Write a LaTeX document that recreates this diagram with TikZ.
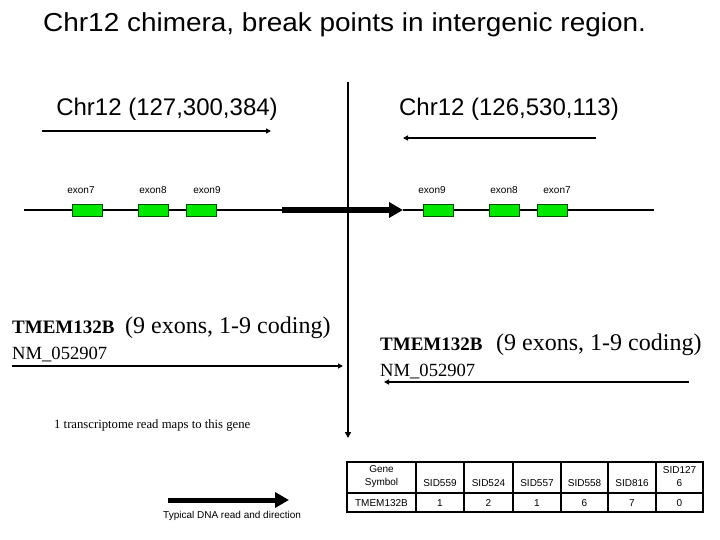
\documentclass[tikz,border=0pt]{standalone}
\usepackage{fontspec}
\setmainfont{Liberation Serif}
\newfontfamily\arial{Liberation Sans}
\newfontfamily\arialwide[FakeStretch=1.075]{Liberation Sans}
\usetikzlibrary{arrows.meta}
\definecolor{exongreen}{RGB}{0,232,0}
\definecolor{exonedge}{RGB}{0,80,0}
\begin{document}
\begin{tikzpicture}[x=1pt,y=-1pt,
  exonbox/.style={draw=exonedge,fill=exongreen,line width=0.8pt,minimum width=30pt,minimum height=12pt,inner sep=0pt},
  exonlabel/.style={font=\arial\fontsize{10}{12}\selectfont,inner sep=0pt,anchor=base},
  chrlabel/.style={font=\arial\fontsize{24}{28}\selectfont,inner sep=0pt,anchor=base},
  genebold/.style={font=\bfseries\fontsize{19}{22}\selectfont,inner sep=0pt,anchor=base west},
  genenote/.style={font=\fontsize{24}{28}\selectfont,inner sep=0pt,anchor=base west},
  nmlabel/.style={font=\fontsize{18.6}{22}\selectfont,inner sep=0pt,anchor=base west},
  thinarrow/.style={line width=1.5pt,-{Triangle[length=5pt,width=5pt]}},
  thickarrow/.style={-{Triangle[length=14pt,width=15pt]}},
  cell/.style={font=\arial\fontsize{10}{13}\selectfont,inner sep=0pt,align=center},
  backbone/.style={line width=1.2pt}
]
\useasboundingbox (0,0) rectangle (720,540);

% title
\node[font=\arialwide\fontsize{26}{30}\selectfont,inner sep=0pt,anchor=base west] (title) at (43,32) {Chr12 chimera, break points in intergenic region.};

% chromosome labels and directions
\node[chrlabel] (chrL) at (167,116) {Chr12 (127,300,384)};
\node[chrlabel] (chrR) at (509,116) {Chr12 (126,530,113)};
\coordinate (chrLs) at (42,131);
\coordinate (chrLe) at (271,131);
\coordinate (chrRs) at (596,138);
\coordinate (chrRe) at (403,138);
\draw[thinarrow] (chrLs) -- (chrLe);
\draw[thinarrow] (chrRs) -- (chrRe);

% backbone
\coordinate (bbL) at (24,210);
\coordinate (thickS) at (282,210);
\coordinate (thickE) at (403,210);
\coordinate (bbR) at (654,210);
\draw[backbone] (bbL) -- (thickS);
\draw[backbone] (thickE) -- (bbR);
\draw[thickarrow,line width=6pt] (thickS) -- (thickE);

% exons left
\node[exonbox] (eL7) at (87,210) {};
\node[exonbox] (eL8) at (153,210) {};
\node[exonbox] (eL9) at (201,210) {};
\node[exonlabel] (lL7) at (81,194) {exon7};
\node[exonlabel] (lL8) at (153,194) {exon8};
\node[exonlabel] (lL9) at (207,194) {exon9};
% exons right
\node[exonbox] (eR9) at (438.5,210) {};
\node[exonbox] (eR8) at (504.5,210) {};
\node[exonbox] (eR7) at (552.5,210) {};
\node[exonlabel] (lR9) at (432,194) {exon9};
\node[exonlabel] (lR8) at (504,194) {exon8};
\node[exonlabel] (lR7) at (557,194) {exon7};

% break line
\coordinate (brTop) at (348,82);
\coordinate (brBot) at (348,438);
\draw[line width=2pt,-{Triangle[length=6pt,width=6pt]}] (brTop) -- (brBot);

% gene annotations left
\node[genebold] (gL) at (12,333) {TMEM132B};
\node[genenote] (gLn) at (125,333) {(9 exons, 1-9 coding)};
\node[nmlabel] (nmL) at (12,359) {NM\_052907};
\coordinate (gaLs) at (12,366);
\coordinate (gaLe) at (343,366);
\draw[thinarrow] (gaLs) -- (gaLe);

% gene annotations right
\node[genebold] (gR) at (380,350) {TMEM132B};
\node[genenote] (gRn) at (496,350) {(9 exons, 1-9 coding)};
\node[nmlabel] (nmR) at (380,376) {NM\_052907};
\coordinate (gaRs) at (689,382);
\coordinate (gaRe) at (384,382);
\draw[thinarrow] (gaRs) -- (gaRe);

% transcriptome note
\node[font=\fontsize{12.7}{15}\selectfont,inner sep=0pt,anchor=base west] (note) at (54,428) {1 transcriptome read maps to this gene};

% legend arrow
\coordinate (dnaS) at (168,500);
\coordinate (dnaE) at (289,500);
\draw[thickarrow,line width=5pt] (dnaS) -- (dnaE);
\node[font=\arial\fontsize{10}{12}\selectfont,inner sep=0pt,anchor=base west] (dnalbl) at (163,518) {Typical DNA read and direction};

% table
\draw[line width=1.5pt] (347,462) rectangle (703,512);
\draw[line width=1.5pt] (347,493) -- (703,493);
\foreach \cx in {416,464,513,561,608,656} {
  \draw[line width=1.5pt] (\cx,462) -- (\cx,512);
}
\node[cell] (hGene) at (381.5,476.5) {Gene\\Symbol};
\node[cell] (h1) at (440,483) {SID559};
\node[cell] (h2) at (488.5,483) {SID524};
\node[cell] (h3) at (537,483) {SID557};
\node[cell] (h4) at (584.5,483) {SID558};
\node[cell] (h5) at (632,483) {SID816};
\node[cell] (h6) at (679.5,476.5) {SID127\\6};
\node[cell] (rGene) at (381.5,503) {TMEM132B};
\node[cell] (r1) at (440,503) {1};
\node[cell] (r2) at (488.5,503) {2};
\node[cell] (r3) at (537,503) {1};
\node[cell] (r4) at (584.5,503) {6};
\node[cell] (r5) at (632,503) {7};
\node[cell] (r6) at (679.5,503) {0};
\end{tikzpicture}
\end{document}
